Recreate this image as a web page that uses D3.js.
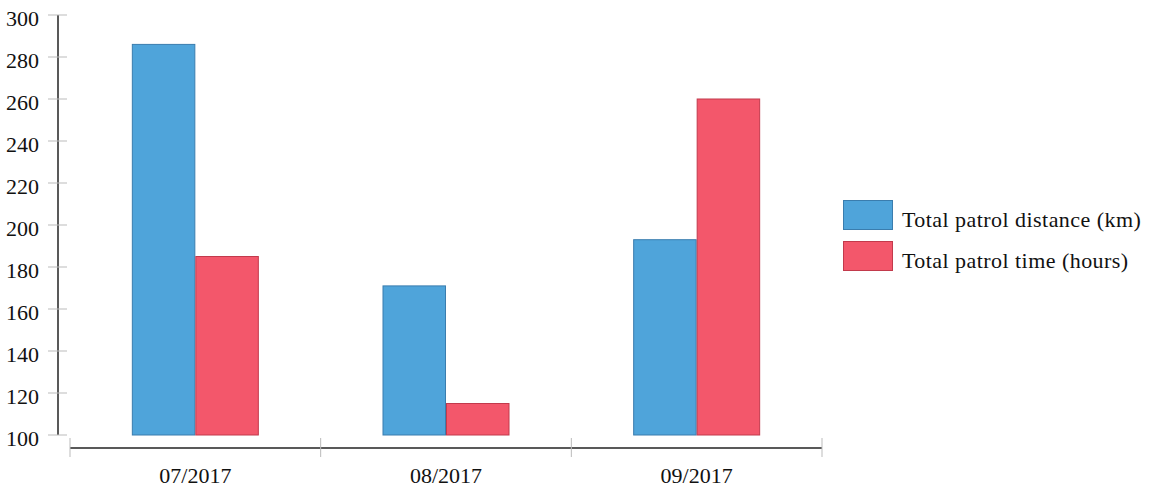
<!DOCTYPE html>
<html><head><meta charset="utf-8">
<script src="https://cdn.jsdelivr.net/npm/d3@7"></script>
<style>
body{margin:0;background:#fff;}
svg{display:block;}
text{font-family:"Liberation Serif","Times New Roman",serif;fill:#111;}
</style></head>
<body><svg id="c" width="1151" height="489"></svg>
<script>
const categories = ["07/2017","08/2017","09/2017"];
const seriesNames = ["Total patrol distance (km)","Total patrol time (hours)"];
const distanceValues = [286, 171, 193];
const timeValues = [185, 115, 260];
const yTicks = [100,120,140,160,180,200,220,240,260,280,300];
const colors = ["#4FA4DA","#F3576B"];
const strokes = ["#3A7DAE","#C23A4C"];

const svg = d3.select("#c");
const y = d3.scaleLinear().domain([100,300]).range([435,15]);
const x = d3.scaleBand().domain(categories).range([70,822]).paddingInner(0).paddingOuter(0);
const x1 = d3.scaleBand().domain([0,1]).range([0,127]);
const series = [distanceValues, timeValues];

// y axis
const ya = svg.append("g");
ya.append("line").attr("x1",58).attr("x2",58).attr("y1",y(300)).attr("y2",y(100)).attr("stroke","#222").attr("stroke-width",1.5);
yTicks.forEach(t=>{
  ya.append("line").attr("x1",48).attr("x2",67).attr("y1",y(t)).attr("y2",y(t)).attr("stroke","#bbb").attr("stroke-width",1);
  ya.append("text").attr("x",39).attr("y",y(t)+10.5).attr("text-anchor","end").attr("font-size",22).text(t);
});

// x axis
const xa = svg.append("g");
xa.append("line").attr("x1",70).attr("x2",822).attr("y1",448).attr("y2",448).attr("stroke","#222").attr("stroke-width",1.5);
const edges = categories.map(c=>x(c)).concat([x.range()[1]]);
edges.forEach(e=>{
  xa.append("line").attr("x1",e).attr("x2",e).attr("y1",438).attr("y2",457).attr("stroke","#bbb");
});
categories.forEach(c=>{
  xa.append("text").attr("x",x(c)+x.bandwidth()/2).attr("y",483).attr("text-anchor","middle").attr("font-size",22).text(c);
});

// bars
series.forEach((vals,si)=>{
  svg.append("g").selectAll("rect").data(vals).join("rect")
    .attr("x",(d,i)=>x(categories[i])+x.bandwidth()/2-63.5+x1(si)+0.5)
    .attr("y",d=>y(d))
    .attr("width",x1.bandwidth()-1)
    .attr("height",d=>y(100)-y(d))
    .attr("fill",colors[si]).attr("stroke",strokes[si]).attr("stroke-width",1);
});

// legend
const lg = svg.append("g");
seriesNames.forEach((n,i)=>{
  lg.append("rect").attr("x",843.5).attr("y",200.5+i*41).attr("width",49).attr("height",29)
    .attr("fill",colors[i]).attr("stroke",strokes[i]);
  lg.append("text").attr("x",902).attr("y",226.5+i*41).attr("font-size",22).attr("letter-spacing",0.45).text(n);
});
</script></body></html>
